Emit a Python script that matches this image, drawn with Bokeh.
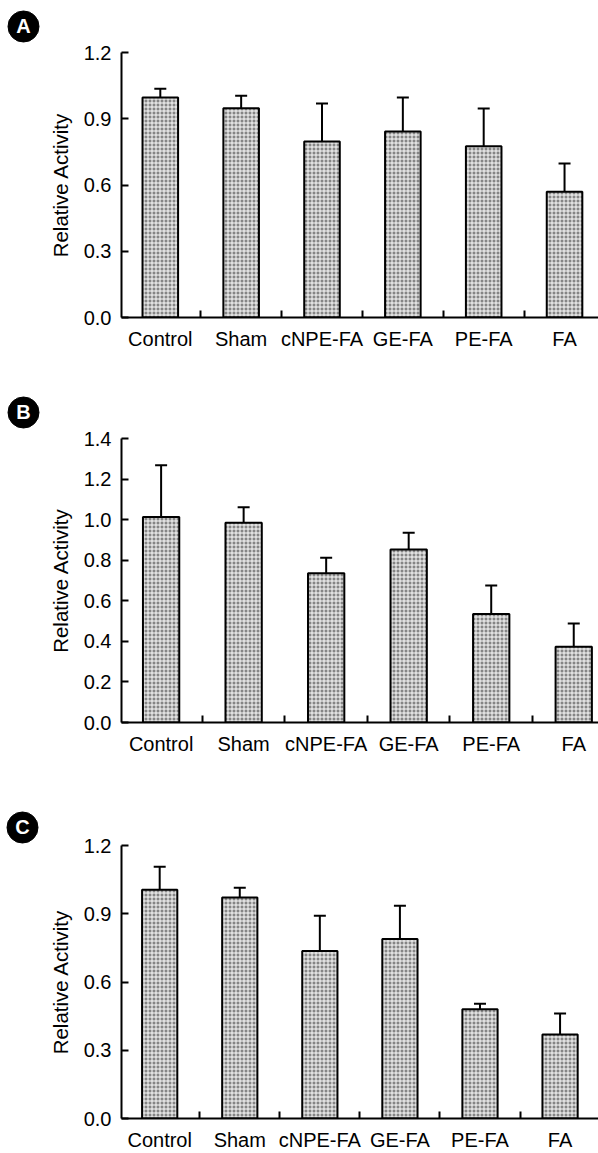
from bokeh.plotting import figure
from bokeh.layouts import column, row
from bokeh.models import (ColumnDataSource, FixedTicker, Whisker, TeeHead, Range1d)
from bokeh.core.properties import value
from bokeh.embed import file_html
from bokeh.resources import INLINE

groups = ["Control", "Sham", "cNPE-FA", "GE-FA", "PE-FA", "FA"]

a_mean = [0.996, 0.948, 0.797, 0.842, 0.776, 0.569]
a_err = [0.040, 0.056, 0.172, 0.154, 0.170, 0.128]
a_ticks = [0.0, 0.3, 0.6, 0.9, 1.2]

b_mean = [1.013, 0.985, 0.736, 0.853, 0.535, 0.374]
b_err = [0.255, 0.076, 0.076, 0.083, 0.140, 0.114]
b_ticks = [0.0, 0.2, 0.4, 0.6, 0.8, 1.0, 1.2, 1.4]

c_mean = [1.006, 0.971, 0.736, 0.789, 0.480, 0.369]
c_err = [0.101, 0.043, 0.155, 0.146, 0.024, 0.092]
c_ticks = [0.0, 0.3, 0.6, 0.9, 1.2]

FONT = "Liberation Sans"
BADGE_W = 45


def badge(letter, height, circ):
    # small side figure whose data units equal pixels, holding the panel letter
    b = figure(width=BADGE_W, height=height, output_backend="svg", toolbar_location=None,
               x_range=Range1d(0, BADGE_W), y_range=Range1d(0, height),
               min_border=0, min_border_left=0, min_border_right=0,
               min_border_top=0, min_border_bottom=0, frame_align=False)
    b.axis.visible = False
    b.grid.visible = False
    b.outline_line_color = None
    b.background_fill_color = "white"
    b.border_fill_color = "white"
    cx, cy = circ
    b.scatter(x=[cx], y=[height - cy], marker="circle", size=31,
              fill_color="black", line_color="black")
    b.text(x=[cx], y=[height - cy + 0.5], text=[letter], text_align="center",
           text_baseline="middle", text_color="white", text_font=value(FONT),
           text_font_style="bold", text_font_size="20px")
    return b


def panel(means, errs, ticks, letter, height, top, bottom, left, xr, circ):
    p = figure(width=598 - BADGE_W, height=height, output_backend="svg",
               toolbar_location=None, frame_align=False,
               x_range=Range1d(*xr), y_range=Range1d(ticks[0], ticks[-1]),
               min_border_top=top, min_border_bottom=bottom,
               min_border_left=left - BADGE_W, min_border_right=0)
    p.outline_line_color = None
    p.xgrid.visible = False
    p.ygrid.visible = False
    p.background_fill_color = "white"
    p.border_fill_color = "white"

    xs = list(range(len(groups)))
    src = ColumnDataSource(dict(x=xs, top=means,
                                upper=[m + e for m, e in zip(means, errs)]))
    p.vbar(x="x", top="top", width=0.44, bottom=0, source=src,
           fill_color="#858585", line_color="black", line_width=2,
           hatch_pattern="+", hatch_color="white", hatch_scale=4, hatch_weight=1)
    w = Whisker(base="x", lower="top", upper="upper", source=src,
                line_color="black", line_width=2, lower_head=None,
                upper_head=TeeHead(size=12, line_color="black", line_width=2))
    p.add_layout(w)

    xa = p.xaxis[0]
    xa.ticker = FixedTicker(ticks=xs, minor_ticks=[i + 0.5 for i in xs[:-1]])
    xa.major_label_overrides = {i: g for i, g in enumerate(groups)}
    xa.major_tick_in = 0
    xa.major_tick_out = 0
    xa.minor_tick_in = 7
    xa.minor_tick_out = 0
    xa.minor_tick_line_width = 2
    xa.axis_line_width = 2
    xa.major_label_standoff = 10
    xa.major_label_text_font = FONT
    xa.major_label_text_font_size = "20px"
    xa.major_label_text_color = "black"

    ya = p.yaxis[0]
    ya.ticker = FixedTicker(ticks=ticks, minor_ticks=[])
    ya.major_label_overrides = {t: f"{t:.1f}" for t in ticks}
    ya.major_tick_in = 7
    ya.major_tick_out = 0
    ya.major_tick_line_width = 2
    ya.minor_tick_in = 0
    ya.minor_tick_out = 0
    ya.axis_line_width = 2
    ya.major_label_standoff = 10
    ya.major_label_text_font = FONT
    ya.major_label_text_font_size = "20px"
    ya.major_label_text_color = "black"
    ya.axis_label = "Relative Activity"
    ya.axis_label_text_font = FONT
    ya.axis_label_text_font_size = "20.5px"
    ya.axis_label_text_font_style = "normal"
    ya.axis_label_text_color = "black"
    ya.axis_label_standoff = 9

    return row(badge(letter, height, circ), p, spacing=0)


pA = panel(a_mean, a_err, a_ticks, "A", 378, 52, 61, 120, (-0.48, 5.42), (23, 26))
pB = panel(b_mean, b_err, b_ticks, "B", 400, 60, 56, 117, (-0.48, 5.30), (23, 34))
pC = panel(c_mean, c_err, c_ticks, "C", 375, 67, 32, 114, (-0.477, 5.48), (22, 49))

layout = column(pA, pB, pC, spacing=0)
open("out.html", "w").write(file_html(layout, INLINE))
